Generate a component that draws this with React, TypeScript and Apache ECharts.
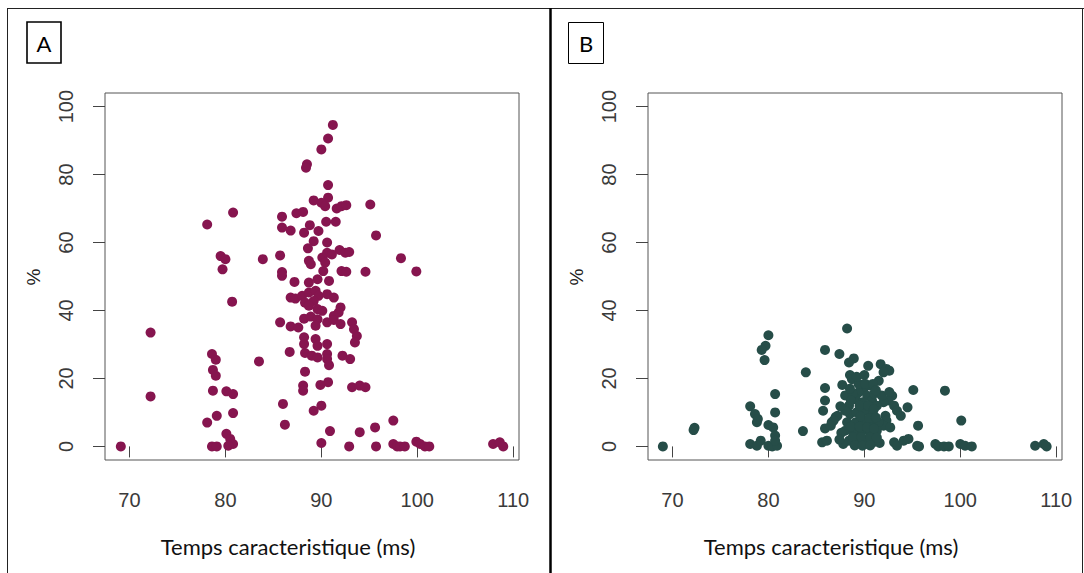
import React, { useEffect, useRef } from "react";
import * as echarts from "echarts";

const timeTicks = [70, 80, 90, 100, 110];
const pctTicks = [0, 20, 40, 60, 80, 100];
const panelLabels = ["A", "B"];
const xTitle = "Temps caracteristique (ms)";
const yTitle = "%";

// Panel A: [temps caracteristique (ms), %]
const pointsA: [number, number][] = [
  [69.1, 0], [72.2, 33.5], [72.2, 14.7],
  [78.1, 65.3], [78.6, 27.2], [79.0, 25.5], [78.7, 22.5], [79.0, 20.8], [78.7, 16.4], [80.1, 16.2], [80.8, 15.4],
  [79.1, 9.0], [78.1, 7.0], [80.8, 9.8], [80.1, 3.7], [80.5, 2.2], [80.8, 0.7], [80.3, 0.2], [78.6, 0], [79.1, 0],
  [79.5, 56.0], [80.0, 55.1], [79.7, 52.1], [80.7, 42.6], [80.8, 68.8],
  [83.5, 25.0], [83.9, 55.1],
  [85.7, 56.2], [85.9, 51.3], [85.9, 50.2], [85.7, 36.5], [86.0, 12.5], [86.2, 6.4], [85.9, 67.6], [85.9, 64.4],
  [86.8, 63.5], [87.2, 48.4], [86.8, 43.8], [87.3, 43.5], [86.8, 35.3], [87.6, 35.0], [86.7, 27.8],
  [87.4, 68.6], [88.1, 69.0], [88.5, 83.0], [88.4, 82.0], [88.8, 65.1], [88.2, 62.9], [89.2, 72.4], [89.7, 63.4],
  [89.2, 60.4], [88.6, 58.3],
  [90.0, 87.4], [90.7, 90.6], [91.2, 94.6], [90.7, 76.9], [90.7, 73.2], [90.0, 71.7], [90.4, 70.7], [91.6, 70.0],
  [92.1, 70.7], [92.6, 71.0], [95.1, 71.2],
  [90.5, 66.1], [91.5, 66.1], [95.7, 62.1], [90.6, 60.0], [91.9, 57.8], [92.5, 57.0], [92.9, 57.2], [98.3, 55.4],
  [99.9, 51.5], [94.6, 51.4], [92.1, 51.6], [92.6, 51.4],
  [88.7, 54.6], [88.9, 53.6], [90.1, 55.6], [90.6, 57.0], [91.1, 56.5], [90.4, 54.1], [90.2, 51.6],
  [88.7, 48.2], [89.6, 49.2], [90.8, 48.7],
  [88.0, 44.3], [88.7, 45.3], [89.4, 45.8], [89.7, 44.3], [90.6, 44.8], [91.3, 43.8], [89.2, 42.8], [88.3, 42.3],
  [88.7, 41.4], [89.6, 40.4], [90.1, 39.9], [92.0, 40.9], [91.8, 39.4], [91.3, 38.4],
  [88.2, 37.6], [88.9, 38.2], [89.6, 37.4],
  [89.4, 35.5], [90.6, 36.5], [91.3, 37.2], [92.0, 36.0], [93.2, 36.5], [93.4, 34.5], [93.7, 32.5], [93.5, 30.6],
  [88.2, 32.1], [88.2, 30.1], [89.4, 31.6], [89.6, 29.6], [90.6, 30.1],
  [88.3, 27.5], [89.0, 26.7], [89.6, 26.2], [90.6, 27.2], [90.6, 25.7], [92.2, 26.7], [93.0, 25.7], [90.8, 23.9],
  [88.3, 22.0],
  [90.7, 18.9], [89.9, 18.1], [88.1, 17.9], [88.1, 16.4], [93.2, 17.4], [94.0, 17.9], [94.6, 17.4],
  [90.0, 12.0], [89.2, 10.5],
  [90.9, 4.5], [90.0, 1.0], [92.9, 0], [94.0, 4.2], [95.6, 5.6], [95.7, 0], [97.5, 7.6], [97.5, 0.7], [97.9, 0],
  [98.2, 0], [98.7, 0], [99.9, 1.4], [100.3, 0.7], [100.8, 0], [101.25, 0], [107.9, 0.7], [108.6, 1.2], [108.96, 0],
];

// Panel B: [temps caracteristique (ms), %]
const pointsB: [number, number][] = [
  [69.0, 0], [72.3, 5.5], [72.2, 4.8],
  [80.0, 32.7], [79.7, 29.6], [79.3, 28.4], [79.6, 25.4], [83.9, 21.8], [80.7, 15.4], [78.1, 11.8], [78.6, 9.5],
  [78.8, 7.1], [78.9, 8.1], [80.7, 10.0], [80.0, 6.3], [80.5, 5.6], [80.7, 3.2], [83.6, 4.5], [78.1, 0.7], [78.8, 0.2],
  [79.2, 1.7], [80.0, 0.2], [80.4, 0], [80.9, 0.2], [80.7, 1.7],
  [85.9, 28.4], [87.4, 27.2], [88.2, 34.7], [88.9, 25.9], [88.4, 24.7], [90.4, 23.7], [88.5, 21.0], [88.7, 19.8],
  [87.7, 18.1], [85.9, 17.2], [85.9, 13.5], [85.7, 10.5], [87.0, 8.6], [86.6, 7.1], [85.9, 5.3], [85.6, 1.2], [86.1, 1.7],
  [91.7, 24.2], [92.3, 22.8], [92.6, 22.3], [92.0, 21.8], [91.5, 19.3], [95.1, 16.6], [98.4, 16.4],
  [89.9, 16.9], [90.6, 17.9], [89.4, 15.9], [90.3, 14.9], [92.9, 14.9], [92.5, 13.5], [92.0, 13.0],
  [93.1, 12.0], [93.4, 10.5], [94.5, 11.5], [93.8, 9.0],
  [87.2, 9.0], [86.8, 7.6], [86.5, 6.1],
  [92.2, 9.0], [92.3, 7.6], [92.0, 6.1], [92.7, 5.6], [95.6, 6.1],
  [93.1, 1.2], [93.4, 0.2], [94.1, 1.7], [94.6, 2.2], [95.5, 0.2], [95.7, 0],
  [97.4, 0.7], [97.7, 0], [98.3, 0], [98.8, 0], [100.1, 7.6], [100.0, 0.7], [100.5, 0.2], [101.2, 0],
  [107.8, 0.2], [108.7, 0.7], [109.0, 0],
  [89.4, 18.4], [90.1, 18.4], [90.9, 18.4], [89.1, 13.9], [89.8, 13.0], [90.8, 13.5], [88.4, 12.0], [91.3, 12.0],
  [88.5, 9.5], [89.2, 10.0], [90.1, 10.5], [90.9, 9.5], [88.2, 7.1], [89.1, 7.1], [89.9, 7.6], [90.8, 6.6],
  [91.5, 7.1], [88.0, 4.6], [88.9, 4.2], [89.8, 4.6], [90.6, 4.2], [91.3, 4.6], [88.4, 1.7], [89.2, 1.2],
  [90.1, 0.7], [90.9, 1.2], [87.8, 0.7], [91.6, 1.0], [88.0, 15.0], [88.8, 15.5], [91.0, 15.5], [91.8, 15.0],
  [88.6, 13.5], [89.5, 12.0], [90.4, 12.0], [91.0, 11.0], [88.0, 10.5], [89.6, 8.8], [90.5, 8.3], [91.2, 8.5],
  [88.6, 5.8], [89.5, 5.8], [90.3, 5.6], [91.0, 5.2], [88.8, 2.8], [89.7, 2.8], [90.6, 2.6], [91.3, 2.6],
  [89.0, 0.3], [89.8, 0.2], [90.6, 0.3], [91.2, 16.5], [88.5, 17.0], [92.6, 16.0], [87.5, 11.8], [87.6, 4.0],
  [87.4, 2.0], [89.2, 20.5], [90.0, 21.0],
];

const colorA = "#86154f";
const colorB = "#264d48";

export default function App() {
  const ref = useRef<HTMLDivElement>(null);
  useEffect(() => {
    document.body.style.margin = "0";
    const chart = echarts.init(ref.current!, null, { renderer: "svg" });
    const tickFont = "'Liberation Sans', Arial, sans-serif";
    const titleFont = "Lato, 'Open Sans', sans-serif";
    const grids = [
      { left: 105, top: 93, width: 414, height: 367 },
      { left: 648, top: 93, width: 414, height: 367 },
    ];
    const xAxes = grids.map((_, i) => ({
      type: "value",
      gridIndex: i,
      min: 67.45,
      max: 110.6,
      axisLine: { show: false },
      splitLine: { show: false },
      axisTick: { show: true, length: 11, customValues: timeTicks, lineStyle: { color: "#444", width: 1 } },
      axisLabel: { customValues: timeTicks, fontFamily: tickFont, fontSize: 20, color: "#3a3a3a", margin: 30 },
    }));
    const yAxes = grids.map((_, i) => ({
      type: "value",
      gridIndex: i,
      min: -4,
      max: 104,
      axisLine: { show: false },
      splitLine: { show: false },
      axisTick: { show: true, length: 12, customValues: pctTicks, lineStyle: { color: "#444", width: 1 } },
      axisLabel: {
        customValues: pctTicks,
        rotate: 90,
        fontFamily: tickFont,
        fontSize: 20,
        color: "#3a3a3a",
        margin: 29,
        align: "center",
        verticalAlign: "bottom",
      },
    }));
    const graphic: any[] = [
      { type: "line", shape: { x1: 7, y1: 8.5, x2: 1084, y2: 8.5 }, style: { stroke: "#222", lineWidth: 1 } },
      { type: "line", shape: { x1: 7.5, y1: 8, x2: 7.5, y2: 573 }, style: { stroke: "#222", lineWidth: 1 } },
      { type: "line", shape: { x1: 1082.5, y1: 8, x2: 1082.5, y2: 573 }, style: { stroke: "#222", lineWidth: 1 } },
      { type: "line", shape: { x1: 550.5, y1: 8, x2: 550.5, y2: 573 }, style: { stroke: "#000", lineWidth: 2.5 } },
      { type: "rect", shape: { x: 27, y: 22, width: 34, height: 41 }, style: { fill: "#fff", stroke: "#000", lineWidth: 1.6 } },
      { type: "rect", shape: { x: 568.5, y: 22.5, width: 35, height: 41 }, style: { fill: "#fff", stroke: "#000", lineWidth: 1 } },
    ];
    [44, 586].forEach((cx, i) => {
      graphic.push({
        type: "text",
        x: cx,
        y: 43,
        style: { text: panelLabels[i], fontFamily: titleFont, fontSize: 22, fill: "#000", align: "center", verticalAlign: "middle" },
      });
    });
    [288, 831].forEach((cx) => {
      graphic.push({
        type: "text",
        x: cx,
        y: 546,
        style: { text: xTitle, fontFamily: titleFont, fontSize: 22, fill: "#111", align: "center", verticalAlign: "middle" },
      });
    });
    [33, 576].forEach((cx) => {
      graphic.push({
        type: "text",
        x: cx,
        y: 277,
        rotation: Math.PI / 2,
        style: { text: yTitle, fontFamily: tickFont, fontSize: 19, fill: "#222", align: "center", verticalAlign: "middle" },
      });
    });
    chart.setOption({
      animation: false,
      backgroundColor: "#fff",
      grid: grids.map((g) => ({ ...g, show: true, borderColor: "#555", borderWidth: 1, backgroundColor: "transparent" })),
      xAxis: xAxes,
      yAxis: yAxes,
      series: [
        {
          type: "scatter",
          xAxisIndex: 0,
          yAxisIndex: 0,
          data: pointsA,
          symbolSize: 10,
          itemStyle: { color: colorA, opacity: 1 },
        },
        {
          type: "scatter",
          xAxisIndex: 1,
          yAxisIndex: 1,
          data: pointsB,
          symbolSize: 10,
          itemStyle: { color: colorB, opacity: 1 },
        },
      ],
      graphic,
    });
    return () => chart.dispose();
  }, []);
  return <div ref={ref} style={{ width: 1084, height: 573 }} />;
}
